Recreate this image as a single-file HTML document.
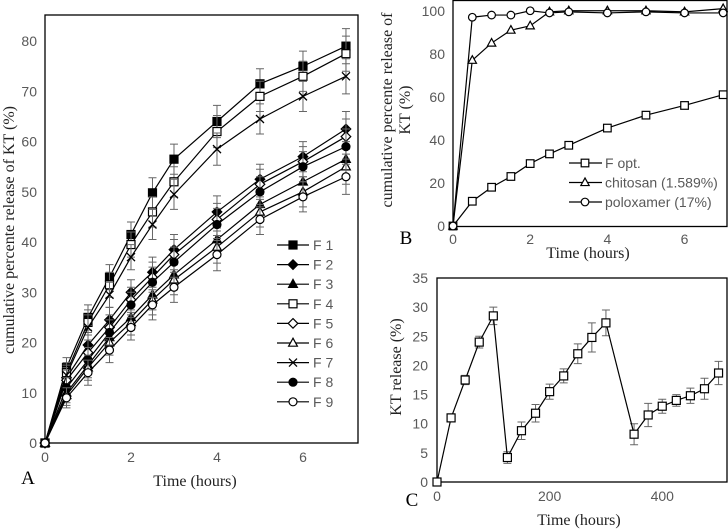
<!DOCTYPE html>
<html><head><meta charset="utf-8"><style>
body{margin:0;background:#fff}
svg{display:block}
.tk{font-family:"Liberation Sans",sans-serif;font-size:14px;fill:#595959}
.tt{font-family:"Liberation Serif",serif;font-size:16px;fill:#222}
.pl{font-family:"Liberation Serif",serif;font-size:19px;fill:#000}
</style></head><body>
<svg id="s" width="728" height="532" viewBox="0 0 728 532" xmlns="http://www.w3.org/2000/svg"></svg>
<script>
const timesA=[0,0.5,1,1.5,2,2.5,3,4,5,6,7];
const namesA=["F 1","F 2","F 3","F 4","F 5","F 6","F 7","F 8","F 9"];
const F1=[0,15,25,33,41.5,49.8,56.5,64,71.5,75,79];
const F2=[0,13,19.5,24.5,30,34,38.5,46,52.5,57,62.5];
const F3=[0,10,15.5,21,25,29.5,33.5,40.5,47.5,52,56.5];
const F4=[0,14,24,31.5,39.5,46,52,62,69,73,77.5];
const F5=[0,12.5,18,23,28.5,33,37.5,44.5,51.5,56,61];
const F6=[0,9.5,15,20,24,28.5,32.5,39,46,50,55];
const F7=[0,13.5,23,29.5,37,43.5,49.5,58.5,64.5,69,73];
const F8=[0,11,16.5,22,27.5,32,36,43.5,50,55,59];
const F9=[0,9,14,18.5,23,27.5,31,37.5,44.5,49,53];
const errA=[0,2,2.5,2.5,2.5,3,3,3.2,3,3,3.5];
const markA=["sqF","diaF","triF","sqO","diaO","triO","x","cirF","cirO"];
const ticksAy=[0,10,20,30,40,50,60,70,80];
const ticksAx=[0,2,4,6];

const timesB=[0,0.5,1,1.5,2,2.5,3,4,5,6,7];
const namesB=["F opt.","chitosan (1.589%)","poloxamer (17%)"];
const Fopt=[0,11.5,18,23,29,33.5,37.5,45.5,51.5,56,61];
const chit=[0,77,85,91,93,99.5,100,100,100,99.5,101];
const polox=[0,97,98,98,100,99,99.5,99,99.5,99,99];
const ticksBy=[0,20,40,60,80,100];
const ticksBx=[0,2,4,6];

const timesC=[0,25,50,75,100,125,150,175,200,225,250,275,300,350,375,400,425,450,475,500];
const relC=[0,11,17.5,24,28.5,4.2,8.8,11.8,15.5,18.2,22,24.8,27.3,8.2,11.5,13,14,14.8,16,18.7];
const errC=[0,0.5,0.8,1,1.5,1,1.5,1.5,1.3,1.2,1.7,2.5,2.2,1.8,2,1.2,1,1.3,1.8,2];
const ticksCy=[0,5,10,15,20,25,30,35];
const ticksCx=[0,200,400];

const svg=document.getElementById('s');
const NS="http://www.w3.org/2000/svg";
function mk(tag,at,parent){const e=document.createElementNS(NS,tag);for(const k in at)e.setAttribute(k,at[k]);(parent||svg).appendChild(e);return e;}
function txt(x,y,s,cls,anchor,rot){const e=mk('text',{x:x,y:y,class:cls,'text-anchor':anchor||'middle'});if(rot)e.setAttribute('transform','rotate(-90 '+x+' '+y+')');e.textContent=s;return e;}
function marker(g,type,x,y,r){
  const f=type.endsWith('F')?'#000':'#fff';
  let e;
  if(type.startsWith('sq'))e=mk('rect',{x:x-r,y:y-r,width:2*r,height:2*r,fill:f,stroke:'#000','stroke-width':1.2},g);
  else if(type.startsWith('dia'))e=mk('polygon',{points:`${x},${y-r*1.2} ${x+r*1.2},${y} ${x},${y+r*1.2} ${x-r*1.2},${y}`,fill:f,stroke:'#000','stroke-width':1.2},g);
  else if(type.startsWith('tri'))e=mk('polygon',{points:`${x},${y-r*1.2} ${x+r*1.1},${y+r*0.8} ${x-r*1.1},${y+r*0.8}`,fill:f,stroke:'#000','stroke-width':1.2},g);
  else if(type.startsWith('cir'))e=mk('circle',{cx:x,cy:y,r:r,fill:f,stroke:'#000','stroke-width':1.2},g);
  else e=mk('path',{d:`M${x-r} ${y-r}L${x+r} ${y+r}M${x-r} ${y+r}L${x+r} ${y-r}`,stroke:'#000','stroke-width':1.3,fill:'none'},g);
  
  
}
function panel(name,L,R,T,B,xmin,xmax,ymin,ymax){
  const g=mk('g',{});
  
  
  const sx=v=>L+(v-xmin)/(xmax-xmin)*(R-L);
  const sy=v=>B-(v-ymin)/(ymax-ymin)*(B-T);
  const fr=mk('rect',{x:L,y:T,width:R-L,height:B-T,fill:'none',stroke:'#000','stroke-width':1.3},g);
  
  
  return {g,sx,sy};
}
function series(P,xs,ys,errs,type,r,nm){
  const g=mk('g',{},P.g);
  
  
  if(errs){xs.forEach((x,i)=>{if(!errs[i])return;const X=P.sx(x),y1=P.sy(ys[i]-errs[i]),y2=P.sy(ys[i]+errs[i]);
    mk('path',{d:`M${X} ${y1}V${y2}M${X-4} ${y1}H${X+4}M${X-4} ${y2}H${X+4}`,stroke:'#666','stroke-width':1,fill:'none'},g);});}
  mk('polyline',{points:xs.map((x,i)=>P.sx(x)+','+P.sy(ys[i])).join(' '),fill:'none',stroke:'#000','stroke-width':1.2},g);
  xs.forEach((x,i)=>marker(g,type,P.sx(x),P.sy(ys[i]),r));
}
// Panel A
const A=panel('panel-a',45,358,15,443,0,7.28,0,85.2);
ticksAy.forEach(v=>txt(37,A.sy(v)+5,v,'tk','end'));
ticksAx.forEach(v=>txt(A.sx(v),462,v,'tk'));
txt(14,230,'cumulative percente release of KT (%)','tt','middle',true);
txt(195,486,'Time (hours)','tt');
txt(28,484,'A','pl');
const seriesA=[F1,F2,F3,F4,F5,F6,F7,F8,F9];
seriesA.forEach((d,i)=>series(A,timesA,d,errA,markA[i],4,'series-'+(i+1)));
namesA.forEach((n,i)=>{const y=245+i*19.6;const g=mk('g',{});
  mk('line',{x1:277,x2:309,y1:y,y2:y,stroke:'#000','stroke-width':1.2},g);marker(g,markA[i],293,y,4);txt(313,y+5,n,'tk','start');});
// Panel B
const Bp=panel('panel-b',453,727,0,226,0,7.1,0,105);
Bp.g.querySelector('rect').setAttribute('y',0.5);
ticksBy.forEach(v=>txt(445,Bp.sy(v)+5,v,'tk','end'));
ticksBx.forEach(v=>txt(Bp.sx(v),244,v,'tk'));
txt(392,110,'cumulative percente release of','tt','middle',true);
txt(410,110,'KT (%)','tt','middle',true);
txt(588,258,'Time (hours)','tt');
txt(406,244,'B','pl');
const markB=["sqO","triO","cirO"];
[Fopt,chit,polox].forEach((d,i)=>series(Bp,timesB,d,null,markB[i],3.8,'series-b-'+(i+1)));
namesB.forEach((n,i)=>{const y=163+i*19.5;const g=mk('g',{});
  mk('line',{x1:569,x2:602,y1:y,y2:y,stroke:'#000','stroke-width':1.2},g);marker(g,markB[i],585,y,3.8);txt(605,y+5,n,'tk','start');});
// Panel C
const C=panel('panel-c',437,727,278,482,0,515,0,35);
ticksCy.forEach(v=>txt(428,C.sy(v)+5,v,'tk','end'));
ticksCx.forEach(v=>txt(C.sx(v),501,v,'tk'));
txt(401,367,'KT release (%)','tt','middle',true);
txt(579,525,'Time (hours)','tt');
txt(412,506,'C','pl');
series(C,timesC,relC,errC,'sqO',4,'series-c');
</script>
</body></html>
